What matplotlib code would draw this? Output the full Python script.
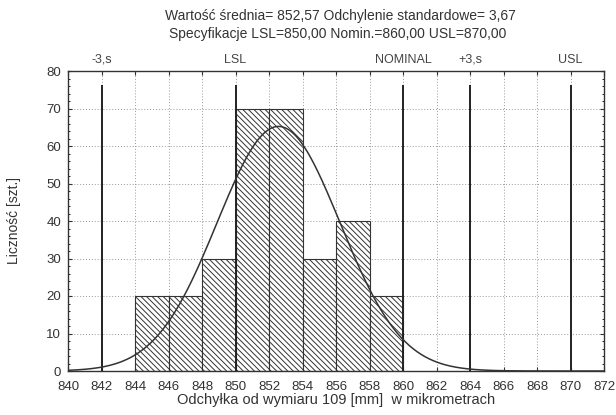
import numpy as np
import matplotlib
matplotlib.use("Agg")
import matplotlib.pyplot as plt
from matplotlib.ticker import MultipleLocator

plt.rcParams['font.family'] = ['Liberation Sans', 'DejaVu Sans']
plt.rcParams['hatch.linewidth'] = 0.7

# histogram data (bin left edges, counts)
bin_left = [844, 846, 848, 850, 852, 854, 856, 858]
counts = [20, 20, 30, 70, 70, 30, 40, 20]
bin_width = 2

mean = 852.57
sd = 3.67
n_total = sum(counts)

# spec lines
line_x = [842, 850, 860, 864, 870]
line_lbl = ['-3,s', 'LSL', 'NOMINAL', '+3,s', 'USL']
line_top = 76

xticks = list(range(840, 873, 2))
yticks = list(range(0, 81, 10))

fig = plt.figure(figsize=(6.16, 4.15), dpi=100)
ax = fig.add_axes([68 / 616, 1 - 371 / 415, 536 / 616, 300 / 415])

ax.bar(bin_left, counts, width=bin_width, align='edge', facecolor='white',
       edgecolor='#333333', linewidth=0.8, hatch='\\\\\\\\\\\\', zorder=2)

xs = np.linspace(840, 872, 400)
pdf = n_total * bin_width / (sd * np.sqrt(2 * np.pi)) * np.exp(-0.5 * ((xs - mean) / sd) ** 2)
ax.plot(xs, pdf, color='#333333', lw=1.1, zorder=4)

for x, lbl in zip(line_x, line_lbl):
    ax.plot([x, x], [0, line_top], color='#222222', lw=1.4, zorder=3)
    ax.text(x, 83, lbl, ha='center', va='center', fontsize=9, color='#444444')

ax.set_xlim(840, 872)
ax.set_ylim(0, 80)
ax.set_xticks(xticks)
ax.set_yticks(yticks)
ax.yaxis.set_minor_locator(MultipleLocator(2))
ax.tick_params(labelsize=9.5, colors='#333333', direction='in', length=3,
               top=True, right=True)
ax.tick_params(axis='x', pad=7)
ax.tick_params(axis='y', pad=5)
ax.tick_params(which='minor', direction='in', length=1.5, right=True)
ax.grid(True, ls=(0, (1, 2)), color='#999999', lw=0.7, zorder=0)
for s in ax.spines.values():
    s.set_color('#333333')
    s.set_linewidth(1.0)

ax.set_ylabel('Liczność [szt.]', fontsize=10, color='#333333', labelpad=18)
fig.text(0.545, 1 - 400 / 415, 'Odchyłka od wymiaru 109 [mm]  w mikrometrach',
         ha='center', va='center', fontsize=10.5, color='#333333')

fig.text(0.553, 1 - 16 / 415, 'Wartość średnia= 852,57 Odchylenie standardowe= 3,67',
         ha='center', va='center', fontsize=10, color='#333333')
fig.text(0.548, 1 - 34 / 415, 'Specyfikacje LSL=850,00 Nomin.=860,00 USL=870,00',
         ha='center', va='center', fontsize=10, color='#333333')

fig.savefig('out.png', dpi=100)
